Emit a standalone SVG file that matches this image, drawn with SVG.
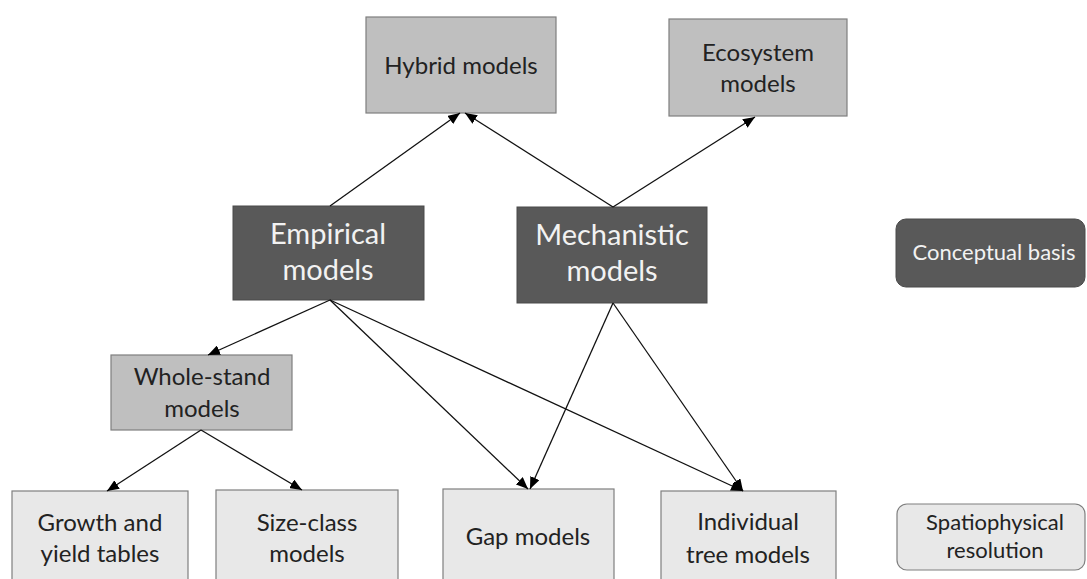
<svg xmlns="http://www.w3.org/2000/svg" width="1087" height="579" viewBox="0 0 1087 579">
<defs>
<style>
text{font-family:"Lato","Open Sans","Liberation Sans",sans-serif;text-anchor:middle}
.dark{fill:#595959;stroke:#4a4a4a;stroke-width:1}
.mid{fill:#bfbfbf;stroke:#7f7f7f;stroke-width:1.2}
.light{fill:#e8e8e8;stroke:#7f7f7f;stroke-width:1.2}
.tw{fill:#f2f2f2}
.tb{fill:#222}
.big{font-size:29px}
.med{font-size:24px}
.sm{font-size:22px}
.conn line{stroke:#111;stroke-width:1.3;marker-end:url(#ah)}
</style>
<marker id="ah" markerUnits="userSpaceOnUse" viewBox="0 0 12 10" refX="12" refY="5" markerWidth="12" markerHeight="10" orient="auto">
<path d="M0,0 L12,5 L0,10 z" fill="#000"/>
</marker>
</defs>
<rect width="1087" height="579" fill="#fff"/>
<g id="hybrid"><rect class="mid" x="366" y="17" width="190" height="96"/><text class="tb med" x="461" y="74">Hybrid models</text></g>
<g id="ecosystem"><rect class="mid" x="669" y="19" width="178" height="97"/><text class="tb med" x="758" y="61">Ecosystem</text><text class="tb med" x="758" y="92">models</text></g>
<g id="empirical"><rect class="dark" x="233" y="206" width="191" height="94"/><text class="tw big" x="328" y="244">Empirical</text><text class="tw big" x="328" y="280">models</text></g>
<g id="mechanistic"><rect class="dark" x="517" y="207" width="190" height="96"/><text class="tw big" x="612" y="245">Mechanistic</text><text class="tw big" x="612" y="281">models</text></g>
<g id="conceptual"><rect class="dark" x="896" y="219" width="189" height="68" rx="10"/><text class="tw sm" x="994" y="260">Conceptual basis</text></g>
<g id="wholestand"><rect class="mid" x="111" y="355" width="181" height="75"/><text class="tb med" x="202" y="385">Whole-stand</text><text class="tb med" x="202" y="417">models</text></g>
<g id="growth"><rect class="light" x="12" y="491" width="176" height="100"/><text class="tb med" x="100" y="531">Growth and</text><text class="tb med" x="100" y="562">yield tables</text></g>
<g id="sizeclass"><rect class="light" x="216" y="490" width="182" height="100"/><text class="tb med" x="307" y="531">Size-class</text><text class="tb med" x="307" y="562">models</text></g>
<g id="gap"><rect class="light" x="443" y="489" width="171" height="100"/><text class="tb med" x="528" y="545">Gap models</text></g>
<g id="individual"><rect class="light" x="661" y="491" width="175" height="100"/><text class="tb med" x="748" y="530">Individual</text><text class="tb med" x="748" y="563">tree models</text></g>
<g id="spatiophysical"><rect class="light" x="897" y="504" width="188" height="66" rx="10"/><text class="tb sm" x="995" y="530">Spatiophysical</text><text class="tb sm" x="995" y="558">resolution</text></g>
<g class="conn" id="connectors">
<line x1="330" y1="206" x2="460" y2="113"/>
<line x1="613" y1="207" x2="465" y2="113"/>
<line x1="613" y1="207" x2="755" y2="117"/>
<line x1="330" y1="300" x2="208" y2="355"/>
<line x1="330" y1="300" x2="528" y2="489"/>
<line x1="330" y1="300" x2="743" y2="491"/>
<line x1="613" y1="303" x2="530" y2="489"/>
<line x1="613" y1="303" x2="743" y2="491"/>
<line x1="201" y1="430" x2="107" y2="491"/>
<line x1="201" y1="430" x2="302" y2="490"/>
</g>
</svg>
